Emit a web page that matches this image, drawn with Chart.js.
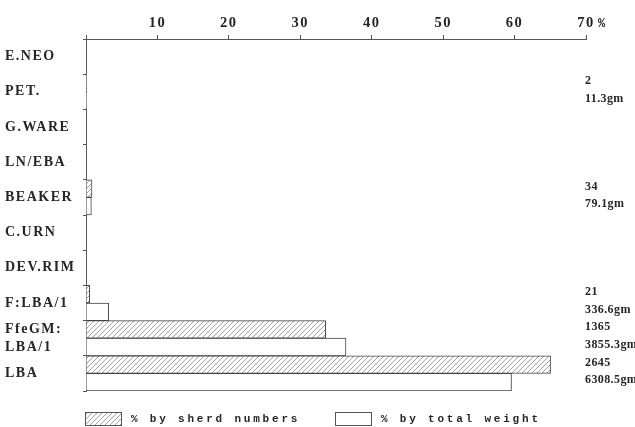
<!DOCTYPE html>
<html>
<head>
<meta charset="utf-8">
<script src="https://cdn.jsdelivr.net/npm/chart.js@4.4.1/dist/chart.umd.min.js"></script>
<style>
  html, body { margin: 0; padding: 0; background: #fff; }
  canvas { display: block; }
</style>
</head>
<body>
<canvas id="chart" width="635" height="427"></canvas>
<script>
// Pottery groups, top to bottom
const categories = ['E.NEO', 'PET.', 'G.WARE', 'LN/EBA', 'BEAKER', 'C.URN', 'DEV.RIM', 'F:LBA/1', ['FfeGM:', 'LBA/1'], 'LBA'];

// Percentage of all sherds (by count) and of total weight per group
const sherdPct  = [null, 0.05, null, null, 0.84, null, null, 0.52, 33.56, 65.04];
const weightPct = [null, 0.11, null, null, 0.75, null, null, 3.18, 36.40, 59.57];

// Raw figures printed beside the bars
const sherdCounts = [null, '2', null, null, '34', null, null, '21', '1365', '2645'];
const weightGrams = [null, '11.3gm', null, null, '79.1gm', null, null, '336.6gm', '3855.3gm', '6308.5gm'];

// Axis ticks
const axisMax = 70;
const axisStep = 10;
const axisUnit = '%';

const legendLabels = ['% by sherd numbers', '% by total weight'];

const canvas = document.getElementById('chart');
const ctx = canvas.getContext('2d');

function makeHatch() {
  const s = 5;
  const tile = document.createElement('canvas');
  tile.width = s; tile.height = s;
  const g = tile.getContext('2d');
  g.fillStyle = '#ffffff';
  g.fillRect(0, 0, s, s);
  g.strokeStyle = '#9a9a9a';
  g.lineWidth = 0.9;
  g.beginPath();
  g.moveTo(0, s); g.lineTo(s, 0);
  g.moveTo(-1, 1); g.lineTo(1, -1);
  g.moveTo(s - 1, s + 1); g.lineTo(s + 1, s - 1);
  g.stroke();
  return ctx.createPattern(tile, 'repeat');
}
const hatch = makeHatch();

const serifBold = { family: '"Liberation Serif", "DejaVu Serif", serif', weight: 'bold' };
const ink = '#262626';

// Text spacing to mimic the typewritten look
const spacingPlugin = {
  id: 'spacing',
  beforeDraw(chart) { chart.ctx.letterSpacing = '1.5px'; }
};

// Counts / weights printed at the right of each bar pair, "%" unit after the last tick, and the key
const annotations = {
  id: 'annotations',
  afterDraw(chart) {
    const c = chart.ctx;
    const area = chart.chartArea;
    const m0 = chart.getDatasetMeta(0);
    c.save();
    c.fillStyle = ink;
    c.letterSpacing = '0.4px';
    c.font = 'bold 12px "Liberation Serif", "DejaVu Serif", serif';
    c.textAlign = 'left';
    c.textBaseline = 'middle';
    const x = area.right - 1;
    categories.forEach((_, i) => {
      if (sherdCounts[i] === null) return;
      const half = (m0.data[i].height || 17) / 2;
      const yCount = chart.scales.y.getPixelForValue(i) - half;
      c.fillText(sherdCounts[i], x, yCount - 2);
      c.fillText(weightGrams[i], x, yCount + 2 * half - 2);
    });

    // unit after the last x tick
    const xs = chart.scales.x;
    c.font = 'bold 12px "Liberation Mono", monospace';
    c.fillText(axisUnit, xs.getPixelForValue(axisMax) + 12, 24);

    // key
    const ky = 412, kh = 13, kw = 36;
    const keys = [
      { x: area.left - 1, fill: chart.data.datasets[0].backgroundColor, text: legendLabels[0] },
      { x: 335, fill: chart.data.datasets[1].backgroundColor, text: legendLabels[1] }
    ];
    c.letterSpacing = '2.8px';
    c.font = 'bold 11px "Liberation Mono", "DejaVu Sans Mono", monospace';
    keys.forEach(k => {
      c.fillStyle = k.fill;
      c.fillRect(k.x, ky, kw, kh);
      c.strokeStyle = '#555';
      c.lineWidth = 1;
      c.strokeRect(k.x + 0.5, ky + 0.5, kw, kh);
      c.fillStyle = ink;
      c.fillText(k.text, k.x + kw + 10, ky + kh / 2 + 1);
    });
    c.restore();
  }
};

new Chart(canvas, {
  type: 'bar',
  data: {
    labels: categories,
    datasets: [
      {
        label: legendLabels[0],
        data: sherdPct,
        backgroundColor: hatch,
        borderColor: '#444',
        borderWidth: 1,
        borderSkipped: 'start'
      },
      {
        label: legendLabels[1],
        data: weightPct,
        backgroundColor: '#ffffff',
        borderColor: '#444',
        borderWidth: 1,
        borderSkipped: 'start'
      }
    ]
  },
  options: {
    responsive: false,
    animation: false,
    indexAxis: 'y',
    devicePixelRatio: 1,
    layout: { padding: { left: 5, right: 49, top: 0, bottom: 36 } },
    datasets: { bar: { categoryPercentage: 1.0, barPercentage: 1.0 } },
    plugins: {
      legend: { display: false },
      tooltip: { enabled: false }
    },
    scales: {
      x: {
        position: 'top',
        min: 0,
        max: axisMax,
        afterFit(scale) { scale.height = 39; },
        ticks: {
          stepSize: axisStep,
          maxRotation: 0,
          padding: 3,
          color: ink,
          font: Object.assign({ size: 14.5 }, serifBold),
          callback: v => (v === 0 ? '' : String(v))
        },
        grid: { drawOnChartArea: false, tickLength: 4, color: '#555' },
        border: { color: '#555', width: 1 }
      },
      y: {
        afterFit(scale) { scale.width = 81; },
        ticks: {
          autoSkip: false,
          crossAlign: 'far',
          padding: 6,
          color: ink,
          font: Object.assign({ size: 14, lineHeight: 1.3 }, serifBold)
        },
        grid: { drawOnChartArea: false, offset: true, tickLength: 3, color: '#555' },
        border: { color: '#555', width: 1 }
      }
    }
  },
  plugins: [spacingPlugin, annotations]
});
</script>
</body>
</html>
